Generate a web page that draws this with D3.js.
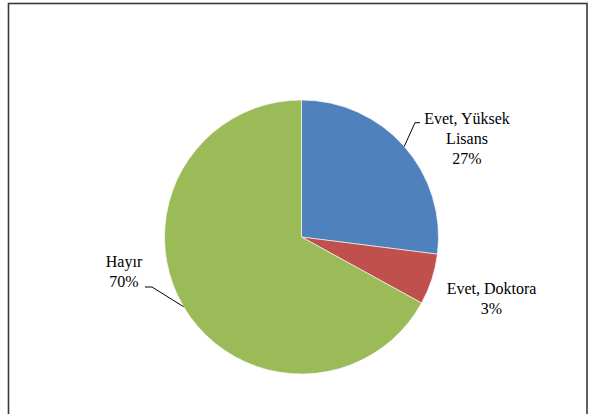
<!DOCTYPE html>
<html><head><meta charset="utf-8">
<script src="https://cdn.jsdelivr.net/npm/d3@7"></script>
</head><body>
<svg id="s" width="591" height="414"></svg>
<script>
// ---- data ----
const categories = ["Evet, Yüksek Lisans", "Evet, Doktora", "Hayır"];
const sliceValues = [27, 6, 67];           // slice sizes as drawn in the picture
const percentLabels = ["27%", "3%", "70%"]; // printed percentages
const labelLines = [["Evet, Yüksek", "Lisans"], ["Evet, Doktora"], ["Hayır"]];
const colors = ["#4F81BD", "#C0504D", "#9BBB59"];

d3.select("body").style("margin", "0px");
d3.select("#s").style("display", "block");

// ---- layout ----
const cx = 301.5, cy = 237, R = 137;
const labelPos = [
  { x: 467, y: 123.5, leader: { elbow: [415, 122.7], end: [420, 122.7] } },
  { x: 491.5, y: 294, leader: null },
  { x: 124, y: 266.5, leader: { elbow: [152, 287], end: [145, 287] } }
];
const lineH = 20;

const svg = d3.select("#s");

svg.append("rect")
  .attr("x", 8.5).attr("y", 3.5)
  .attr("width", 578.5).attr("height", 430)
  .attr("fill", "none")
  .attr("stroke", "#3a3a3a")
  .attr("stroke-width", 1.6);

const pie = d3.pie().sort(null).value(d => d);
const arcs = pie(sliceValues);
const arc = d3.arc().innerRadius(0).outerRadius(R);

const g = svg.append("g").attr("transform", `translate(${cx},${cy})`);
g.selectAll("path.slice")
  .data(arcs)
  .join("path")
  .attr("class", "slice")
  .attr("d", arc)
  .attr("fill", (d, i) => colors[i])
  .attr("stroke", "#fff")
  .attr("stroke-width", 0.6);

// leader lines
arcs.forEach((a, i) => {
  const lp = labelPos[i];
  if (!lp.leader) return;
  const mid = (a.startAngle + a.endAngle) / 2;
  const px = cx + R * Math.sin(mid);
  const py = cy - R * Math.cos(mid);
  svg.append("polyline")
    .attr("points", [[px, py], lp.leader.elbow, lp.leader.end].map(p => p.join(",")).join(" "))
    .attr("fill", "none")
    .attr("stroke", "#000")
    .attr("stroke-width", 1);
});

// labels
categories.forEach((c, i) => {
  const lp = labelPos[i];
  const lines = labelLines[i].concat([percentLabels[i]]);
  lines.forEach((ln, k) => {
    svg.append("text")
      .attr("x", lp.x)
      .attr("y", lp.y + k * lineH)
      .attr("text-anchor", "middle")
      .attr("font-family", "Times New Roman, Liberation Serif, DejaVu Serif, serif")
      .attr("font-size", 16)
      .text(ln);
  });
});
</script>
</body></html>
